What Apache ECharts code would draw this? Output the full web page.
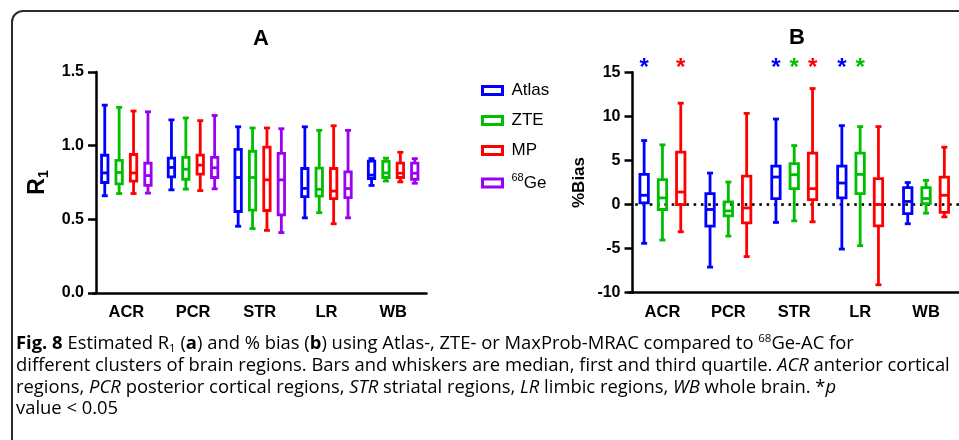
<!DOCTYPE html>
<html>
<head>
<meta charset="utf-8">
<script src="https://cdn.jsdelivr.net/npm/echarts@6/dist/echarts.min.js"></script>
<style>
  html, body { margin: 0; padding: 0; background: #fff; }
  #chart { width: 959px; height: 440px; }
</style>
</head>
<body>
<div id="chart"></div>
<script>
// Brain-region clusters and AC methods
const regions = ['ACR', 'PCR', 'STR', 'LR', 'WB'];
const methods = ['Atlas', 'ZTE', 'MP', '68Ge'];

// Panel A: estimated R1, each entry is [min, Q1, median, Q3, max]
const r1Atlas = [[0.66, 0.75, 0.815, 0.935, 1.275], [0.70, 0.788, 0.852, 0.916, 1.175], [0.453, 0.553, 0.784, 0.975, 1.128], [0.51, 0.654, 0.71, 0.845, 1.128], [0.73, 0.777, 0.80, 0.895, 0.912]];
const r1ZTE   = [[0.675, 0.74, 0.818, 0.90, 1.26], [0.705, 0.772, 0.84, 0.92, 1.188], [0.437, 0.563, 0.784, 0.962, 1.12], [0.545, 0.658, 0.704, 0.848, 1.104], [0.76, 0.784, 0.815, 0.893, 0.915]];
const r1MP    = [[0.675, 0.76, 0.815, 0.94, 1.235], [0.695, 0.807, 0.868, 0.936, 1.17], [0.425, 0.56, 0.768, 0.99, 1.12], [0.47, 0.64, 0.692, 0.845, 1.135], [0.754, 0.784, 0.813, 0.882, 0.955]];
const r1Ge    = [[0.678, 0.73, 0.797, 0.882, 1.23], [0.707, 0.784, 0.85, 0.92, 1.205], [0.41, 0.53, 0.768, 0.948, 1.115], [0.51, 0.647, 0.709, 0.822, 1.104], [0.745, 0.772, 0.813, 0.882, 0.912]];

// Panel B: % bias versus 68Ge-AC, [min, Q1, median, Q3, max]
const biasAtlas = [[-4.4, 0.2, 1.05, 3.42, 7.26], [-7.1, -2.45, -0.56, 1.24, 3.57], [-2.03, 0.68, 3.12, 4.36, 9.7], [-5.05, 0.75, 2.44, 4.36, 8.95], [-2.18, -1.02, 0.35, 1.92, 2.5]];
const biasZTE   = [[-4.03, -0.56, 0.75, 2.82, 6.77], [-3.58, -1.29, -0.72, 0.3, 2.55], [-1.85, 1.8, 3.39, 4.63, 6.69], [-4.67, 1.24, 3.42, 5.83, 8.84], [-0.98, 0.11, 0.68, 1.92, 2.74]];
const biasMP    = [[-3.09, 0, 1.42, 5.94, 11.5], [-5.9, -2.08, -0.38, 3.23, 10.34], [-1.96, 0.56, 1.8, 5.83, 13.16], [-9.1, -2.41, 0, 2.93, 8.84], [-1.4, -0.9, 1.05, 3.12, 6.5]];

// p < 0.05 flags per region
const sigAtlas = [1, 0, 1, 1, 0];
const sigZTE   = [0, 0, 1, 1, 0];
const sigMP    = [1, 0, 1, 0, 0];

// Axis ticks
const r1Ticks = [0, 0.5, 1.0, 1.5];
const biasTicks = [-10, -5, 0, 5, 10, 15];

const colors = ['#0000FF', '#00BE00', '#FF0000', '#9A00F2'];
const FONT = "'Liberation Sans', Arial, Helvetica, sans-serif";
const CAPTION_FONT = "'Open Sans', 'Noto Sans', sans-serif";
const CAPTION_SIZE = 18.4;
const LW = 2.8;
const CAP = 3;

function boxRenderer(slot, nSlots, spacing, halfW, color) {
  return function (params, api) {
    const ci = api.value(0);
    const cx = api.coord([ci, 0])[0] + (slot - (nSlots - 1) / 2) * spacing;
    const y = k => api.coord([ci, api.value(k)])[1];
    const yMin = y(1), yQ1 = y(2), yMed = y(3), yQ3 = y(4), yMax = y(5);
    const st = { stroke: color, lineWidth: LW, fill: null };
    return {
      type: 'group',
      children: [
        { type: 'line', shape: { x1: cx, y1: yQ3, x2: cx, y2: yMax }, style: st },
        { type: 'line', shape: { x1: cx, y1: yQ1, x2: cx, y2: yMin }, style: st },
        { type: 'line', shape: { x1: cx - CAP, y1: yMax, x2: cx + CAP, y2: yMax }, style: st },
        { type: 'line', shape: { x1: cx - CAP, y1: yMin, x2: cx + CAP, y2: yMin }, style: st },
        { type: 'rect', shape: { x: cx - halfW, y: yQ3, width: 2 * halfW, height: yQ1 - yQ3 }, style: st },
        { type: 'line', shape: { x1: cx - halfW, y1: yMed, x2: cx + halfW, y2: yMed }, style: st }
      ]
    };
  };
}

function boxSeries(name, data, axisIdx, slot, nSlots, spacing, halfW) {
  const color = colors[methods.indexOf(name)];
  return {
    type: 'custom',
    name: name,
    xAxisIndex: axisIdx,
    yAxisIndex: axisIdx,
    itemStyle: { color: color },
    encode: { x: 0, y: [1, 2, 3, 4, 5] },
    data: data.map((d, i) => [i].concat(d)),
    renderItem: boxRenderer(slot, nSlots, spacing, halfW, color),
    z: 3
  };
}

function starSeries(name, flags, slot) {
  const color = colors[methods.indexOf(name)];
  return {
    type: 'custom',
    name: 'sig-' + name,
    xAxisIndex: 1,
    yAxisIndex: 1,
    data: flags.map((f, i) => [i, f]).filter(d => d[1]),
    encode: { x: 0, y: 1 },
    renderItem: function (params, api) {
      const ci = api.value(0);
      const top = api.coord([ci, biasTicks[biasTicks.length - 1]]);
      return {
        type: 'text',
        style: {
          text: '*',
          x: top[0] + (slot - 1) * 18.3,
          y: top[1] - 4,
          fill: color,
          font: 'bold 24px ' + FONT,
          align: 'center',
          verticalAlign: 'middle'
        }
      };
    },
    z: 3
  };
}

// dotted reference line at 0 % bias, drawn as a row of square dots
const zeroLine = {
  type: 'custom',
  name: 'zero',
  xAxisIndex: 1,
  yAxisIndex: 1,
  data: [[0, 0]],
  encode: { x: 0, y: 1 },
  renderItem: function (params, api) {
    const cs = params.coordSys;
    const y0 = api.coord([0, api.value(1)])[1];
    const dots = [];
    for (let x = cs.x + 7; x < cs.x + cs.width; x += 7.3) {
      dots.push({ type: 'rect', shape: { x: x - 1.3, y: y0 - 1.3, width: 2.6, height: 2.6 }, style: { fill: '#000' } });
    }
    return { type: 'group', children: dots };
  },
  z: 1
};

const tickLabel = { color: '#000', fontFamily: FONT, fontWeight: 'bold', fontSize: 16 };
const axisLineStyle = { color: '#000', width: 2.5 };

function catAxis(gridIndex) {
  return {
    type: 'category', gridIndex: gridIndex, data: regions,
    position: 'bottom',
    axisLine: { onZero: false, lineStyle: axisLineStyle },
    axisTick: { alignWithLabel: true, length: 8, lineStyle: axisLineStyle },
    axisLabel: { color: '#000', fontFamily: FONT, fontWeight: 'bold', fontSize: 16.5, margin: 11 },
    splitLine: { show: false }
  };
}

function valAxis(gridIndex, ticks, fmt, name, nameGap, rich) {
  return {
    type: 'value', gridIndex: gridIndex,
    min: ticks[0], max: ticks[ticks.length - 1], interval: ticks[1] - ticks[0],
    offset: -3,
    axisLine: { show: true, onZero: false, lineStyle: axisLineStyle },
    axisTick: { show: true, length: 8, lineStyle: axisLineStyle },
    axisLabel: Object.assign({ margin: 12, formatter: fmt }, tickLabel),
    splitLine: { show: false },
    name: name, nameLocation: 'middle', nameGap: nameGap, nameRotate: 90,
    nameTextStyle: { color: '#000', fontFamily: FONT, fontWeight: 'bold', fontSize: 17, rich: rich }
  };
}

const captionRich = {
  b: { fontFamily: CAPTION_FONT, fontSize: CAPTION_SIZE, fontWeight: 'bold', color: '#000', lineHeight: 22 },
  i: { fontFamily: CAPTION_FONT, fontSize: CAPTION_SIZE, fontStyle: 'italic', color: '#000', lineHeight: 22 },
  sup: { fontFamily: CAPTION_FONT, fontSize: 11.5, color: '#000', verticalAlign: 'top', lineHeight: 11 },
  sub: { fontFamily: CAPTION_FONT, fontSize: 11.5, color: '#000', verticalAlign: 'bottom', lineHeight: 11 }
};
const captionLines = [
  '{b|Fig. 8} Estimated R{sub|1} ({b|a}) and % bias ({b|b}) using Atlas-, ZTE- or MaxProb-MRAC compared to {sup|68}Ge-AC for',
  'different clusters of brain regions. Bars and whiskers are median, first and third quartile. {i|ACR} anterior cortical',
  'regions, {i|PCR} posterior cortical regions, {i|STR} striatal regions, {i|LR} limbic regions, {i|WB} whole brain. *{i|p}',
  'value < 0.05'
];

const titles = [
  { text: 'A', left: 253, top: 28, padding: 0, textStyle: { fontFamily: FONT, fontWeight: 'bold', fontSize: 22, color: '#000' } },
  { text: 'B', left: 789, top: 27, padding: 0, textStyle: { fontFamily: FONT, fontWeight: 'bold', fontSize: 22, color: '#000' } }
].concat(captionLines.map((t, i) => ({
  text: t, left: 16, top: 333 + i * 21.7, padding: 0,
  textStyle: { fontFamily: CAPTION_FONT, fontSize: CAPTION_SIZE, fontWeight: 'normal', color: '#000', lineHeight: 22, rich: captionRich }
})));

const option = {
  animation: false,
  backgroundColor: '#fff',
  title: titles,
  graphic: [{
    type: 'rect', silent: true, z: -10,
    shape: { x: 12, y: 11, width: 1000, height: 500, r: 11 },
    style: { fill: null, stroke: '#2b2b2b', lineWidth: 2 }
  }],
  legend: {
    orient: 'vertical', left: 476, top: 77,
    itemWidth: 20, itemHeight: 8, itemGap: 13,
    selectedMode: false,
    data: methods.map((m, i) => ({
      name: m, icon: 'rect',
      itemStyle: { color: 'rgba(0,0,0,0)', borderColor: colors[i], borderWidth: 3 }
    })),
    formatter: n => n === '68Ge' ? '{sup|68}{n|Ge}' : n,
    textStyle: {
      color: '#000', fontFamily: FONT, fontSize: 17, padding: [0, 0, 0, 4],
      rich: {
        sup: { fontFamily: FONT, fontSize: 11, color: '#000', verticalAlign: 'top', lineHeight: 11 },
        n: { fontFamily: FONT, fontSize: 17, color: '#000', lineHeight: 22 }
      }
    }
  },
  grid: [
    { left: 93, top: 72, width: 333.5, height: 221 },
    { left: 629.5, top: 72.3, width: 333.5, height: 220.4 }
  ],
  xAxis: [catAxis(0), catAxis(1)],
  yAxis: [
    valAxis(0, r1Ticks, v => v.toFixed(1), '{r|R}{s|1}', 45, {
      r: { fontFamily: FONT, fontWeight: 'bold', fontSize: 23, color: '#000', lineHeight: 26 },
      s: { fontFamily: FONT, fontWeight: 'bold', fontSize: 14, color: '#000', verticalAlign: 'bottom', lineHeight: 14 }
    }),
    valAxis(1, biasTicks, v => String(v), '%Bias', 45, {})
  ],
  series: [
    boxSeries('Atlas', r1Atlas, 0, 0, 4, 14.4, 3.2),
    boxSeries('ZTE', r1ZTE, 0, 1, 4, 14.4, 3.2),
    boxSeries('MP', r1MP, 0, 2, 4, 14.4, 3.2),
    boxSeries('68Ge', r1Ge, 0, 3, 4, 14.4, 3.2),
    zeroLine,
    boxSeries('Atlas', biasAtlas, 1, 0, 3, 18.3, 4.2),
    boxSeries('ZTE', biasZTE, 1, 1, 3, 18.3, 4.2),
    boxSeries('MP', biasMP, 1, 2, 3, 18.3, 4.2),
    starSeries('Atlas', sigAtlas, 0),
    starSeries('ZTE', sigZTE, 1),
    starSeries('MP', sigMP, 2)
  ]
};

const chart = echarts.init(document.getElementById('chart'));
chart.setOption(option);
</script>
</body>
</html>
